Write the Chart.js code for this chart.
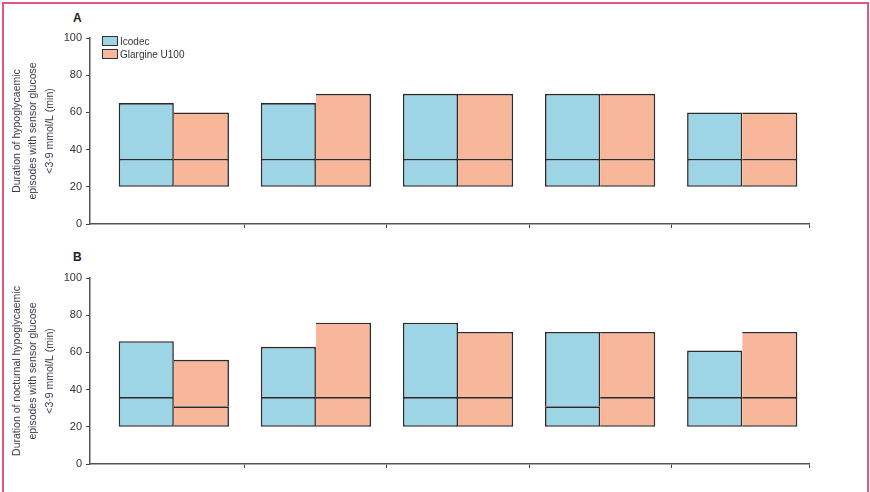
<!DOCTYPE html>
<html>
<head>
<meta charset="utf-8">
<script src="https://cdn.jsdelivr.net/npm/chart.js@4.4.0/dist/chart.umd.min.js"></script>
<style>
  body { margin: 0; background: #fff; width: 870px; height: 492px; overflow: hidden; position: relative; font-family: "Liberation Sans", Arial, sans-serif; }
  .frame { position: absolute; left: 2px; top: 2px; width: 863px; height: 520px; border: 2px solid #dc5a82; }
  canvas { position: absolute; left: 0; }
  .panel { position: absolute; font-weight: bold; font-size: 12px; color: #222; }
  .legend { position: absolute; left: 102px; top: 35px; font-size: 10px; color: #333; line-height: 13px; }
  .legend span.box { display: inline-block; width: 14px; height: 8px; border: 1.3px solid #333; vertical-align: -1px; margin-right: 2px; }
</style>
</head>
<body>
<div class="frame"></div>
<div class="panel" style="left:73px;top:11px">A</div>
<div class="panel" style="left:73px;top:250px">B</div>
<canvas id="chartA" width="870" height="240" style="top:0"></canvas>
<canvas id="chartB" width="870" height="240" style="top:240px"></canvas>
<div class="legend">
  <div><span class="box" style="background:#9dd4e6"></span>Icodec</div>
  <div><span class="box" style="background:#f8b79b"></span>Glargine U100</div>
</div>
<script>
const categories = ['1', '2', '3', '4', '5'];
const yTickValues = [0, 20, 40, 60, 80, 100];
const xTickValues = [0.5, 1.5, 2.5, 3.5, 4.47];

// panel A: hypoglycaemic episodes
const icodecLowA = [20, 20, 20, 20, 20];
const icodecMedA = [35, 35, 35, 35, 35];
const icodecTopA = [65, 65, 70, 70, 60];
const glargineLowA = [20, 20, 20, 20, 20];
const glargineMedA = [35, 35, 35, 35, 35];
const glargineTopA = [60, 70, 70, 70, 60];

// panel B: nocturnal hypoglycaemic episodes
const icodecLowB = [20, 20, 20, 20, 20];
const icodecMedB = [36, 36, 36, 31, 36];
const icodecTopB = [66, 63, 76, 71, 61];
const glargineLowB = [20, 20, 20, 20, 20];
const glargineMedB = [31, 36, 36, 36, 36];
const glargineTopB = [56, 76, 71, 71, 71];

const titleA = ['Duration of hypoglycaemic', 'episodes with sensor glucose', '<3·9 mmol/L (min)'];
const titleB = ['Duration of nocturnal hypoglycaemic', 'episodes with sensor glucose', '<3·9 mmol/L (min)'];

const blue = '#9dd4e6';
const salmon = '#f8b79b';
const edge = '#2b2b2b';
const bw = 1.6;

// shared edges (median line, icodec/glargine join) drawn only once
function seg(color, stack, data, label, noLeft, noBottom) {
  return {
    label: label, data: data, stack: stack, backgroundColor: color,
    borderColor: edge, borderSkipped: false,
    borderWidth: { top: bw, right: bw, bottom: noBottom ? 0 : bw, left: noLeft ? 0 : bw },
    barPercentage: 1, categoryPercentage: 0.8
  };
}

function makePanel(id, iLow, iMed, iTop, gLow, gMed, gTop, title) {
  const lower = (low, med) => categories.map((c, i) => ({ x: i, y: [low[i], med[i]] }));
  const upper = (med, top) => categories.map((c, i) => ({ x: i, y: top[i] - med[i] }));
  new Chart(document.getElementById(id), {
    type: 'bar',
    data: {
      datasets: [
        seg(blue, 'ico', lower(iLow, iMed), 'Icodec', false, false),
        seg(blue, 'ico', upper(iMed, iTop), 'Icodec', false, true),
        seg(salmon, 'gla', lower(gLow, gMed), 'Glargine U100', true, false),
        seg(salmon, 'gla', upper(gMed, gTop), 'Glargine U100', true, true)
      ]
    },
    options: {
      responsive: false,
      animation: false,
      events: [],
      layout: { padding: { left: 0, right: 61, top: 38, bottom: 0 } },
      plugins: { legend: { display: false }, tooltip: { enabled: false } },
      scales: {
        x: {
          type: 'linear', min: -0.59, max: 4.47, offset: false,
          afterBuildTicks: s => { s.ticks = xTickValues.map(v => ({ value: v })); },
          afterFit: s => { s.height = 16; },
          ticks: { display: false },
          grid: { offset: false, drawOnChartArea: false, drawTicks: true, tickLength: 4, color: '#444', lineWidth: 1 },
          border: { display: true, color: '#555', width: 1.5 }
        },
        y: {
          stacked: true, min: 0, max: 100,
          afterBuildTicks: s => { s.ticks = yTickValues.map(v => ({ value: v })); },
          afterFit: s => { s.width = 90; },
          ticks: { padding: 4, color: '#333', font: { family: 'Liberation Sans', size: 11 } },
          grid: { drawOnChartArea: false, drawTicks: true, tickLength: 4, color: '#444', lineWidth: 1 },
          border: { display: true, color: '#555', width: 1.5 },
          title: {
            display: true, text: title, color: '#3a3a48',
            font: { family: 'Liberation Sans', size: 10.5, lineHeight: 1.55 },
            padding: { top: 9, bottom: 0 }
          }
        }
      }
    }
  });
}

makePanel('chartA', icodecLowA, icodecMedA, icodecTopA, glargineLowA, glargineMedA, glargineTopA, titleA);
makePanel('chartB', icodecLowB, icodecMedB, icodecTopB, glargineLowB, glargineMedB, glargineTopB, titleB);
</script>
</body>
</html>
